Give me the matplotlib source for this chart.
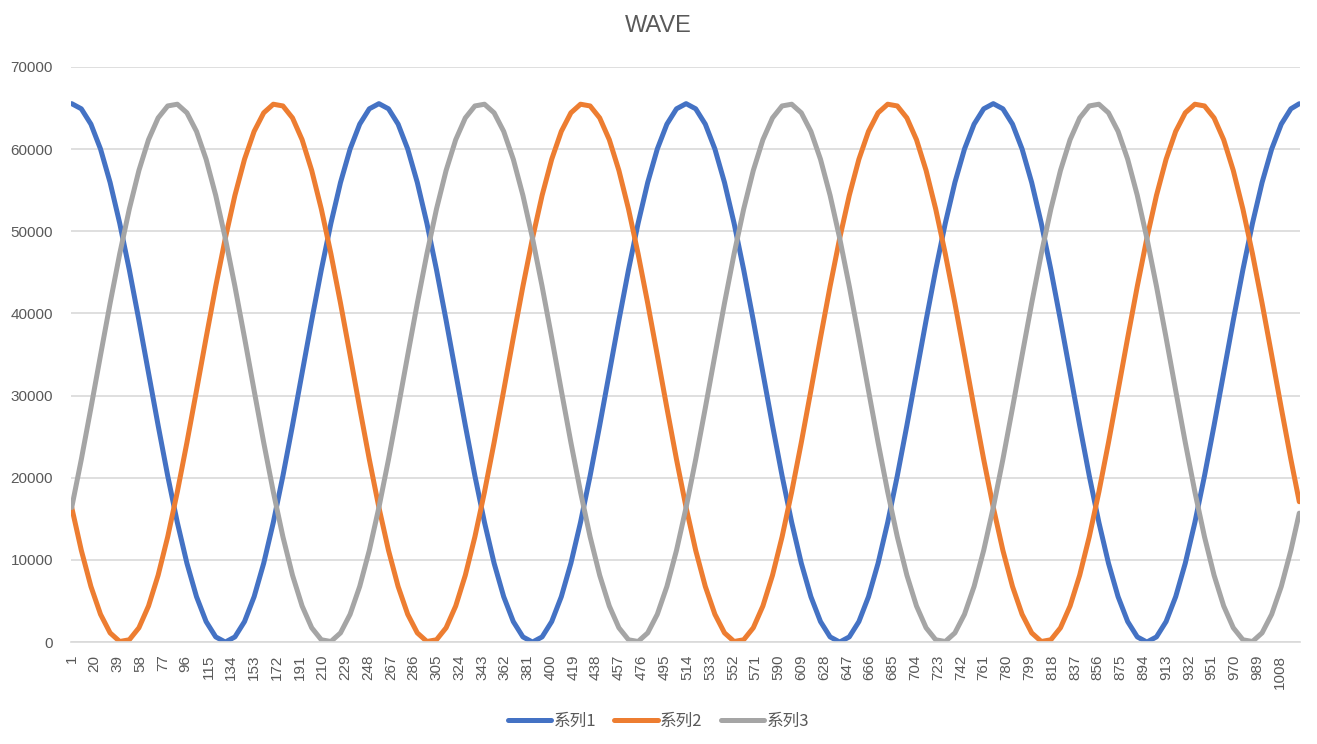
import matplotlib
matplotlib.use('Agg')
import matplotlib.pyplot as plt

# sample index of each value (every 8th sample, plus the last one)
sample_no = list(range(1, 1025, 8)) + [1024]

series1 = [
    65535, 64906, 63041, 60013, 55937, 50972, 45307, 39160, 32768, 26375, 20228, 14563, 9597, 5522, 2494, 629,
    0, 629, 2494, 5522, 9597, 14563, 20228, 26375, 32768, 39160, 45307, 50972, 55937, 60013, 63041, 64906,
    65535, 64906, 63041, 60013, 55937, 50972, 45307, 39160, 32768, 26375, 20228, 14563, 9597, 5522, 2494, 629,
    0, 629, 2494, 5522, 9597, 14563, 20228, 26375, 32768, 39160, 45307, 50972, 55937, 60013, 63041, 64906,
    65535, 64906, 63041, 60013, 55937, 50972, 45307, 39160, 32768, 26375, 20228, 14563, 9597, 5522, 2494, 629,
    0, 629, 2494, 5522, 9597, 14563, 20228, 26375, 32768, 39160, 45307, 50972, 55937, 60013, 63041, 64906,
    65535, 64906, 63041, 60013, 55937, 50972, 45307, 39160, 32768, 26375, 20228, 14563, 9597, 5522, 2494, 629,
    0, 629, 2494, 5522, 9597, 14563, 20228, 26375, 32768, 39160, 45307, 50972, 55937, 60013, 63041, 64906,
    65525,
]

series2 = [
    16384, 11162, 6771, 3379, 1116, 70, 280, 1739, 4390, 8132, 12820, 18275, 24287, 30625, 37045, 43300,
    49151, 54373, 58763, 62156, 64419, 65465, 65255, 63796, 61145, 57403, 52715, 47260, 41248, 34911, 28490, 22235,
    16384, 11162, 6771, 3379, 1116, 70, 280, 1739, 4390, 8132, 12820, 18275, 24287, 30625, 37045, 43300,
    49151, 54373, 58763, 62156, 64419, 65465, 65255, 63796, 61145, 57403, 52715, 47260, 41248, 34911, 28490, 22235,
    16384, 11162, 6771, 3379, 1116, 70, 280, 1739, 4390, 8132, 12820, 18275, 24287, 30625, 37045, 43300,
    49151, 54373, 58763, 62156, 64419, 65465, 65255, 63796, 61145, 57403, 52715, 47260, 41248, 34911, 28490, 22235,
    16384, 11162, 6771, 3379, 1116, 70, 280, 1739, 4390, 8132, 12820, 18275, 24287, 30625, 37045, 43300,
    49151, 54373, 58763, 62156, 64419, 65465, 65255, 63796, 61145, 57403, 52715, 47260, 41248, 34911, 28490, 22235,
    17082,
]

series3 = [
    16384, 22235, 28490, 34911, 41248, 47260, 52715, 57403, 61145, 63796, 65255, 65465, 64419, 62156, 58763, 54373,
    49151, 43300, 37045, 30625, 24287, 18275, 12820, 8132, 4390, 1739, 280, 70, 1116, 3379, 6771, 11162,
    16384, 22235, 28490, 34911, 41248, 47260, 52715, 57403, 61145, 63796, 65255, 65465, 64419, 62156, 58763, 54373,
    49151, 43300, 37045, 30625, 24287, 18275, 12820, 8132, 4390, 1739, 280, 70, 1116, 3379, 6771, 11162,
    16384, 22235, 28490, 34911, 41248, 47260, 52715, 57403, 61145, 63796, 65255, 65465, 64419, 62156, 58763, 54373,
    49151, 43300, 37045, 30625, 24287, 18275, 12820, 8132, 4390, 1739, 280, 70, 1116, 3379, 6771, 11162,
    16384, 22235, 28490, 34911, 41248, 47260, 52715, 57403, 61145, 63796, 65255, 65465, 64419, 62156, 58763, 54373,
    49151, 43300, 37045, 30625, 24287, 18275, 12820, 8132, 4390, 1739, 280, 70, 1116, 3379, 6771, 11162,
    15688,
]

names = ['系列1', '系列2', '系列3']
colors = ['#4472C4', '#ED7D31', '#A5A5A5']
x_ticks = list(range(1, 1025, 19))
y_ticks = list(range(0, 70001, 10000))


def main():
    plt.rcParams['font.family'] = ['Liberation Sans', 'Noto Sans CJK SC', 'DejaVu Sans']
    text_color = '#595959'

    fig = plt.figure(figsize=(13.17, 7.44), dpi=100)
    ax = fig.add_axes([0.054, 0.137, 0.933, 0.773])

    for values, name, color in zip([series1, series2, series3], names, colors):
        ax.plot(sample_no, values, color=color, linewidth=3.6, label=name,
                solid_capstyle='round', solid_joinstyle='round')

    ax.set_xlim(0.5, 1024.5)
    ax.set_ylim(0, 70000)
    ax.set_xticks(x_ticks)
    ax.set_xticklabels([str(t) for t in x_ticks], rotation=90)
    ax.set_yticks(y_ticks)
    ax.tick_params(axis='both', length=0, labelsize=11, colors=text_color)
    ax.tick_params(axis='x', pad=9)
    ax.tick_params(axis='y', pad=13)
    ax.grid(axis='y', color='#D9D9D9', linewidth=1.2)
    ax.set_axisbelow(True)
    for side in ['top', 'right', 'left']:
        ax.spines[side].set_visible(False)
    ax.spines['bottom'].set_color('#D9D9D9')
    ax.spines['bottom'].set_linewidth(1.2)

    fig.text(0.5, 0.965, 'WAVE', ha='center', va='center', fontsize=17, color=text_color)

    leg = fig.legend(loc='center', bbox_to_anchor=(0.5, 0.031), ncol=3, frameon=False,
                     handlelength=2.6, handletextpad=0.15, columnspacing=1.1, fontsize=12,
                     prop={'family': ['Noto Sans CJK SC', 'DejaVu Sans'], 'size': 12})
    for t in leg.get_texts():
        t.set_color(text_color)

    fig.savefig('out.png', dpi=100)


if __name__ == '__main__':
    main()
